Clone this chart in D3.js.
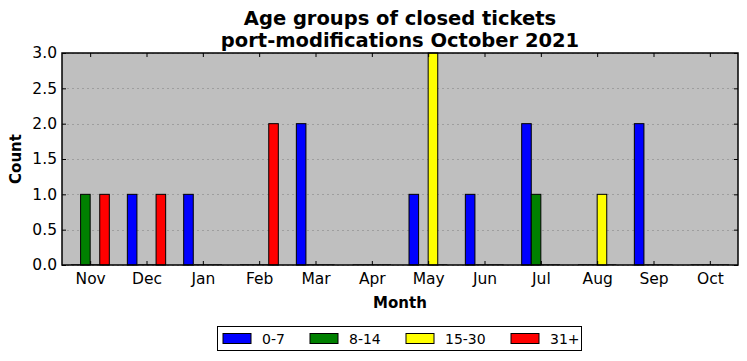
<!DOCTYPE html>
<html>
<head>
<meta charset="utf-8">
<script src="https://cdn.jsdelivr.net/npm/d3@7"></script>
<style>
body { margin: 0; background: #fff; }
text { font-family: "DejaVu Sans", sans-serif; }
</style>
</head>
<body>
<svg width="747" height="361"></svg>
<script>
var months = ["Nov", "Dec", "Jan", "Feb", "Mar", "Apr", "May", "Jun", "Jul", "Aug", "Sep", "Oct"];
var groups = ["0-7", "8-14", "15-30", "31+"];
var colors = ["blue", "green", "yellow", "red"];
var age0to7 = [0, 1, 1, 0, 2, 0, 1, 1, 2, 0, 2, 0];
var age8to14 = [1, 0, 0, 0, 0, 0, 0, 0, 1, 0, 0, 0];
var age15to30 = [0, 0, 0, 0, 0, 0, 3, 0, 0, 1, 0, 0];
var age31plus = [1, 1, 0, 2, 0, 0, 0, 0, 0, 0, 0, 0];
var yTicks = [0, 0.5, 1, 1.5, 2, 2.5, 3];

var series = [age0to7, age8to14, age15to30, age31plus];

var svg = d3.select("svg");
var pl = 62, pr = 738, pt = 53, pb = 265;

var x = d3.scaleLinear().domain([-0.5, months.length - 0.5]).range([pl, pr]);
var y = d3.scaleLinear().domain([0, 3]).range([pb, pt]);
var w = 0.17; // largeur d'une barre, en mois

// fond
svg.append("rect")
  .attr("x", pl).attr("y", pt)
  .attr("width", pr - pl).attr("height", pb - pt)
  .attr("fill", "#bfbfbf");

// grille
svg.append("g").selectAll("line")
  .data(yTicks)
  .enter().append("line")
    .attr("x1", pl).attr("x2", pr)
    .attr("y1", function(d) { return Math.round(y(d)) + 0.5; })
    .attr("y2", function(d) { return Math.round(y(d)) + 0.5; })
    .attr("stroke", "#888")
    .attr("stroke-width", 0.6)
    .attr("stroke-dasharray", "2,3");

// barres
series.forEach(function(vals, k) {
  var g = svg.append("g");
  vals.forEach(function(v, i) {
    var x0 = x(i + (k - 2) * w), x1 = x(i + (k - 1) * w);
    if (v > 0) {
      g.append("rect")
        .attr("x", x0).attr("y", y(v))
        .attr("width", x1 - x0).attr("height", y(0) - y(v))
        .attr("fill", colors[k])
        .attr("stroke", "#000")
        .attr("stroke-width", 1);
    } else {
      g.append("line")
        .attr("x1", x0).attr("x2", x1)
        .attr("y1", y(0) - 0.5).attr("y2", y(0) - 0.5)
        .attr("stroke", "#555").attr("stroke-width", 1);
    }
  });
});

// axes (ticks vers l'intérieur)
var xb = d3.axisBottom(x).tickValues(d3.range(months.length))
  .tickFormat(function(i) { return months[i]; })
  .tickSizeInner(-4).tickSizeOuter(0).tickPadding(8);
var xt = d3.axisTop(x).tickValues(d3.range(months.length))
  .tickFormat("").tickSizeInner(-4).tickSizeOuter(0);
var yl = d3.axisLeft(y).tickValues(yTicks).tickFormat(d3.format(".1f"))
  .tickSizeInner(-4).tickSizeOuter(0).tickPadding(5);
var yr = d3.axisRight(y).tickValues(yTicks).tickFormat("")
  .tickSizeInner(-4).tickSizeOuter(0);

function styleAxis(g) {
  g.select(".domain").remove();
  g.selectAll("line").attr("stroke", "#000");
  g.selectAll("text").attr("font-size", 15.5).attr("fill", "#000")
    .attr("font-family", "DejaVu Sans, sans-serif");
}
svg.append("g").attr("transform", "translate(0," + pb + ")").call(xb).call(styleAxis);
svg.append("g").attr("transform", "translate(0," + pt + ")").call(xt).call(styleAxis);
svg.append("g").attr("transform", "translate(" + pl + ",0)").call(yl).call(styleAxis);
svg.append("g").attr("transform", "translate(" + pr + ",0)").call(yr).call(styleAxis);

// cadre
svg.append("rect")
  .attr("x", pl).attr("y", pt)
  .attr("width", pr - pl).attr("height", pb - pt)
  .attr("fill", "none").attr("stroke", "#000").attr("stroke-width", 1.5);

// titres
svg.append("text").attr("x", 400).attr("y", 25)
  .attr("text-anchor", "middle").attr("font-size", 19.5).attr("font-weight", "bold")
  .text("Age groups of closed tickets");
svg.append("text").attr("x", 400).attr("y", 47)
  .attr("text-anchor", "middle").attr("font-size", 19.5).attr("font-weight", "bold")
  .text("port-modifications October 2021");
svg.append("text").attr("x", 400).attr("y", 308)
  .attr("text-anchor", "middle").attr("font-size", 15).attr("font-weight", "bold")
  .text("Month");
svg.append("text")
  .attr("transform", "translate(21," + (pt + pb) / 2 + ") rotate(-90)")
  .attr("text-anchor", "middle").attr("font-size", 15).attr("font-weight", "bold")
  .text("Count");

// légende
var leg = svg.append("g");
leg.append("rect").attr("x", 217.5).attr("y", 326.5).attr("width", 364).attr("height", 24)
  .attr("fill", "#fff").attr("stroke", "#000").attr("stroke-width", 1);
var legX = [223, 310, 406, 511];
groups.forEach(function(name, k) {
  leg.append("rect").attr("x", legX[k]).attr("y", 333.5).attr("width", 28).attr("height", 10)
    .attr("fill", colors[k]).attr("stroke", "#000").attr("stroke-width", 1);
  leg.append("text").attr("x", legX[k] + 39).attr("y", 343.5)
    .attr("font-size", 14).text(name);
});
</script>
</body>
</html>
